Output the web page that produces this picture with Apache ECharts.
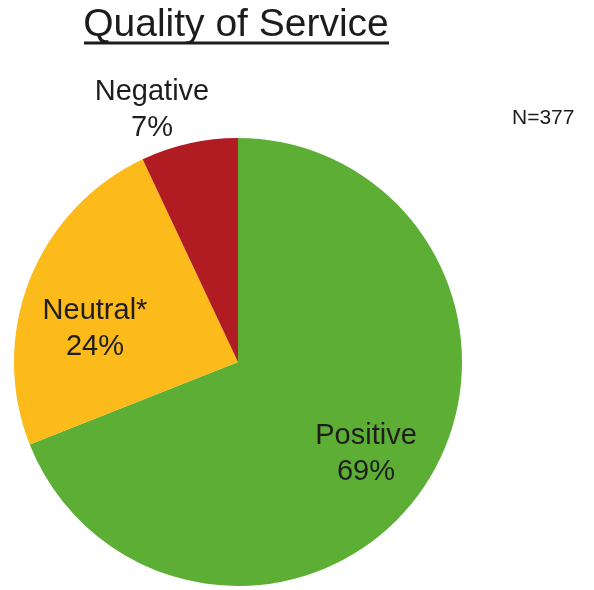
<!DOCTYPE html>
<html>
<head>
<meta charset="utf-8">
<script src="https://cdn.jsdelivr.net/npm/echarts@6/dist/echarts.min.js"></script>
<style>html,body{margin:0;padding:0;background:#fff;}#c{width:594px;height:590px;}</style>
</head>
<body>
<div id="c"></div>
<script>
var titleText = 'Quality of Service';
var noteText = 'N=377';
var categories = ['Positive', 'Neutral*', 'Negative'];
var values = [69, 24, 7];
var colors = ['#5cae34', '#fcba1b', '#b11b22'];

var labelPos = [[366, 454], [95, 329], [152, 110]];

var chart = echarts.init(document.getElementById('c'));
chart.setOption({
  backgroundColor: '#ffffff',
  animation: false,
  graphic: [
    { type: 'text', x: 236, y: 25, style: { text: titleText, fontFamily: 'Liberation Sans', fontSize: 39, fill: '#1c1c1c', align: 'center', verticalAlign: 'middle' } },
    { type: 'line', shape: { x1: 84, y1: 43, x2: 389, y2: 43 }, style: { stroke: '#1c1c1c', lineWidth: 3 } },
    { type: 'text', left: 512, top: 108, style: { text: noteText, fontFamily: 'Liberation Sans', fontSize: 21, fill: '#1c1c1c' } }
  ],
  series: [{
    type: 'pie',
    center: [238, 362],
    radius: [0, 224],
    startAngle: 90,
    clockwise: true,
    data: categories.map(function (c, i) {
      return { name: c, value: values[i], itemStyle: { color: colors[i] } };
    }),
    label: {
      show: true,
      position: 'inside',
      formatter: function (p) { return p.name + '\n' + p.value + '%'; },
      fontFamily: 'Liberation Sans',
      fontSize: 29,
      lineHeight: 36,
      color: '#1e1e1e',
      align: 'center'
    },
    labelLine: { show: false },
    labelLayout: function (p) {
      var pos = labelPos[p.dataIndex];
      return { x: pos[0], y: pos[1], align: 'center', verticalAlign: 'middle' };
    },
    emphasis: { disabled: true }
  }]
});
</script>
</body>
</html>
